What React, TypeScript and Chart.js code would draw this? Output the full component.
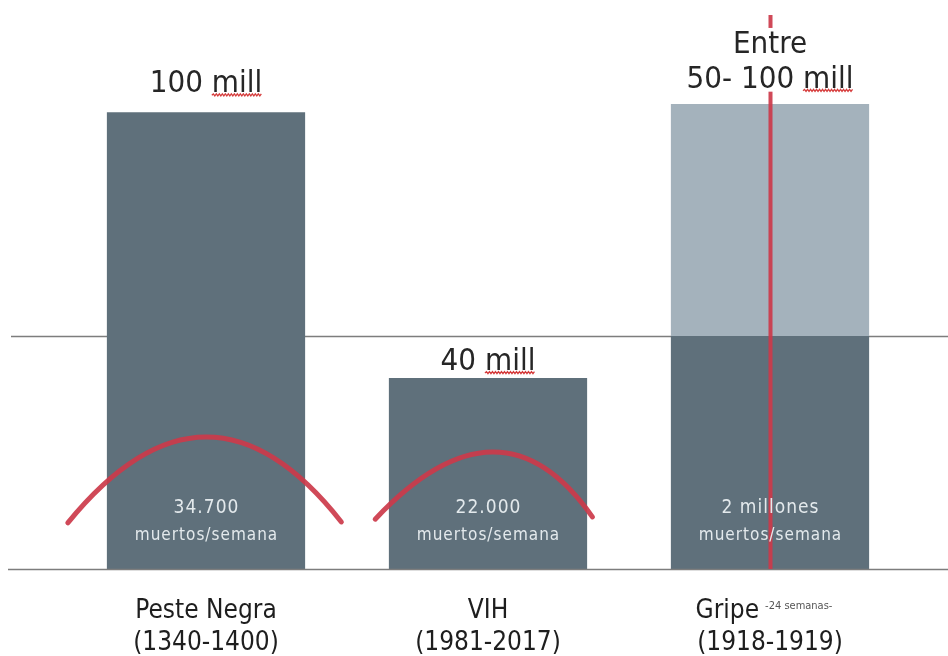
import React, { useEffect, useRef } from "react";
import { Chart, registerables } from "chart.js";

Chart.register(...registerables);

// ---- data ----
const categories = ["Peste Negra", "VIH", "Gripe"];
const periods = ["(1340-1400)", "(1981-2017)", "(1918-1919)"];
const categoryNotes = ["", "", "-24 semanas-"];
// deaths in millions (dark part) and upper range (light part)
const deathsLow = [100, 41.8, 51];
const deathsUpperRange = [0, 0, 50.8];
const topLabels = [["100 mill"], ["40 mill"], ["Entre", "50- 100 mill"]];
const topLabelValues = [[104.4], [43.6], [113, 105.4]];
const weeklyLines = [
  ["34.700", "muertos/semana"],
  ["22.000", "muertos/semana"],
  ["2 millones", "muertos/semana"],
];
const weeklyLineValues = [12.3, 6.4];
const referenceLevel = 51;
const yMax = 120;
// red arcs: [category offset, value]
const pesteArc = [[-0.49, 10.1], [0, 28.9], [0.48, 10.3]];
const vihArc = [[-0.40, 10.9], [0.015, 25.6], [0.37, 11.4]];
const arcs = [
  { cat: 0, pts: pesteArc },
  { cat: 1, pts: vihArc },
];
const redLineCategory = 2;
const redLineTop = 121.3;

const DARK = "#5f707b";
const LIGHT = "#a4b2bc";
const RED = "rgba(204, 58, 74, 0.92)";
const GRAY = "#7d7d7d";
const NARROW = '"Liberation Sans Narrow", "Arial Narrow", "DejaVu Sans Condensed", sans-serif';

function wavyUnderline(ctx: CanvasRenderingContext2D, x0: number, x1: number, y: number) {
  ctx.save();
  ctx.strokeStyle = "rgba(210,40,40,0.9)";
  ctx.lineWidth = 1.3;
  ctx.beginPath();
  let up = true;
  ctx.moveTo(x0, y);
  for (let x = x0 + 1.5; x <= x1; x += 1.5) {
    ctx.lineTo(x, up ? y - 1.3 : y + 0.7);
    up = !up;
  }
  ctx.stroke();
  ctx.restore();
}

function drawMillText(ctx: CanvasRenderingContext2D, text: string, cx: number, y: number) {
  const w = ctx.measureText(text).width;
  const left = cx - w / 2;
  ctx.textAlign = "left";
  ctx.fillText(text, left, y);
  const idx = text.indexOf("mill");
  if (idx >= 0) {
    const pre = ctx.measureText(text.slice(0, idx)).width;
    const mw = ctx.measureText("mill").width;
    wavyUnderline(ctx, left + pre, left + pre + mw, y + 3);
  }
}

const decorPlugin = {
  id: "decor",
  beforeDatasetsDraw(chart: any) {
    const { ctx, scales } = chart;
    const y = scales.y;
    ctx.save();
    ctx.strokeStyle = GRAY;
    ctx.lineWidth = 1.6;
    const ry = Math.round(y.getPixelForValue(referenceLevel)) + 0.5;
    ctx.beginPath();
    ctx.moveTo(11, ry);
    ctx.lineTo(chart.width, ry);
    ctx.stroke();
    ctx.restore();
  },
  afterDatasetsDraw(chart: any) {
    const { ctx, chartArea, scales } = chart;
    const x = scales.x;
    const y = scales.y;
    const catW = x.getPixelForValue(1) - x.getPixelForValue(0);
    ctx.save();

    // baseline
    ctx.strokeStyle = GRAY;
    ctx.lineWidth = 1.6;
    const by = Math.round(y.getPixelForValue(0)) + 0.5;
    ctx.beginPath();
    ctx.moveTo(8, by);
    ctx.lineTo(chart.width, by);
    ctx.stroke();

    // arcs
    ctx.strokeStyle = RED;
    ctx.lineWidth = 5;
    ctx.lineCap = "round";
    arcs.forEach((a) => {
      const c = x.getPixelForValue(a.cat);
      const p = a.pts.map(([dx, v]) => [c + dx * catW, y.getPixelForValue(v)]);
      const cx = 2 * p[1][0] - (p[0][0] + p[2][0]) / 2;
      const cy = 2 * p[1][1] - (p[0][1] + p[2][1]) / 2;
      ctx.beginPath();
      ctx.moveTo(p[0][0], p[0][1]);
      ctx.quadraticCurveTo(cx, cy, p[2][0], p[2][1]);
      ctx.stroke();
    });

    // red vertical line
    const rx = x.getPixelForValue(redLineCategory) + 0.5;
    ctx.lineCap = "butt";
    ctx.lineWidth = 4;
    ctx.beginPath();
    ctx.moveTo(rx, y.getPixelForValue(redLineTop));
    ctx.lineTo(rx, y.getPixelForValue(0));
    ctx.stroke();

    // top labels (white boxes hide the red line behind the text)
    ctx.textBaseline = "alphabetic";
    ctx.font = `31px ${NARROW}`;
    topLabels.forEach((lines, i) => {
      const cx = x.getPixelForValue(i);
      lines.forEach((t, j) => {
        const ty = y.getPixelForValue(topLabelValues[i][j]);
        const w = ctx.measureText(t).width;
        const extra = j < lines.length - 1 ? 11 : 4;
        ctx.fillStyle = "#ffffff";
        ctx.fillRect(cx - w / 2 - 2, ty - 25, w + 4, 25 + extra);
      });
    });
    topLabels.forEach((lines, i) => {
      const cx = x.getPixelForValue(i);
      lines.forEach((t, j) => {
        const ty = y.getPixelForValue(topLabelValues[i][j]);
        ctx.fillStyle = "#262626";
        drawMillText(ctx, t, cx, ty);
      });
    });

    // weekly labels inside bars
    ctx.fillStyle = "#e3e9ec";
    ctx.textAlign = "center";
    (ctx as any).letterSpacing = "1px";
    weeklyLines.forEach((lines, i) => {
      const cx = x.getPixelForValue(i);
      lines.forEach((t, j) => {
        ctx.font = `${j === 0 ? 19 : 17}px ${NARROW}`;
        ctx.fillText(t, cx + 0.5, y.getPixelForValue(weeklyLineValues[j]));
      });
    });
    (ctx as any).letterSpacing = "0px";

    // category labels
    const bottom = chartArea.bottom;
    ctx.fillStyle = "#1e1e1e";
    categories.forEach((name, i) => {
      const cx = x.getPixelForValue(i);
      ctx.font = `26px ${NARROW}`;
      const nw = ctx.measureText(name).width;
      const note = categoryNotes[i];
      let noteW = 0;
      if (note) {
        ctx.font = `11px ${NARROW}`;
        noteW = ctx.measureText(note).width + 6;
      }
      const left = cx - (nw + noteW) / 2 - (note ? 6 : 0);
      ctx.textAlign = "left";
      ctx.font = `26px ${NARROW}`;
      ctx.fillText(name, left, bottom + 49);
      if (note) {
        ctx.font = `11px ${NARROW}`;
        ctx.fillStyle = "#555";
        ctx.fillText(note, left + nw + 6, bottom + 40);
        ctx.fillStyle = "#1e1e1e";
      }
      ctx.textAlign = "center";
      ctx.font = `26px ${NARROW}`;
      ctx.fillText(periods[i], cx, bottom + 81);
    });

    ctx.restore();
  },
};

export default function App() {
  const ref = useRef<HTMLCanvasElement | null>(null);
  useEffect(() => {
    if (!ref.current) return;
    const chart = new Chart(ref.current, {
      type: "bar",
      data: {
        labels: categories,
        datasets: [
          {
            label: "Muertes (mill)",
            data: deathsLow,
            backgroundColor: DARK,
            borderWidth: 0,
            barPercentage: 0.703,
            categoryPercentage: 1,
          },
          {
            label: "Rango superior",
            data: deathsUpperRange,
            backgroundColor: LIGHT,
            borderWidth: 0,
            barPercentage: 0.703,
            categoryPercentage: 1,
          },
        ],
      },
      options: {
        responsive: false,
        animation: false,
        layout: { padding: { left: 65, right: 37, top: 21, bottom: 87 } },
        scales: {
          x: { stacked: true, display: false },
          y: { stacked: true, display: false, min: 0, max: yMax },
        },
        plugins: {
          legend: { display: false },
          tooltip: { enabled: false },
          title: { display: false },
        },
      },
      plugins: [decorPlugin],
    });
    return () => chart.destroy();
  }, []);
  return (
    <div style={{ position: "absolute", left: 0, top: 0, width: 948, height: 656, background: "#fff" }}>
      <canvas ref={ref} width={948} height={656} style={{ display: "block" }} />
    </div>
  );
}
